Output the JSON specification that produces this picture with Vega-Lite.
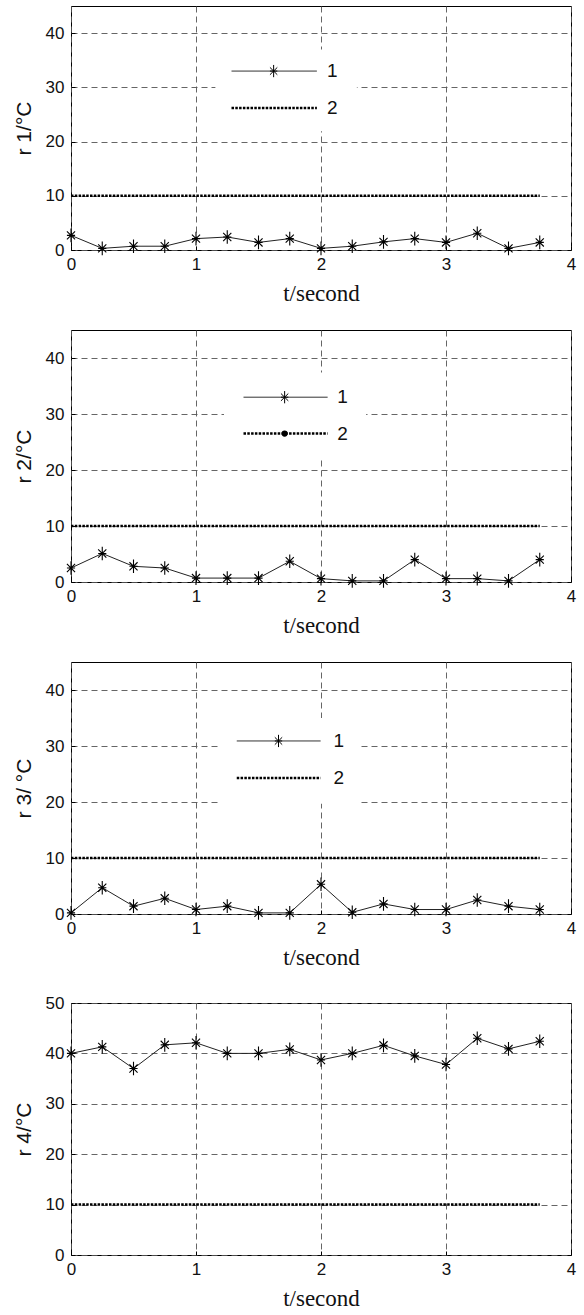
{
  "$schema": "https://vega.github.io/schema/vega-lite/v6.json",
  "padding": {"left": 12, "top": 5, "right": 5, "bottom": 2},
  "spacing": 23,
  "background": "white",
  "config": {
    "view": {"stroke": "black", "strokeWidth": 1},
    "axis": {
      "labelFont": "Liberation Sans", "labelFontSize": 17, "labelColor": "#111", "labelFlush": false,
      "grid": true, "gridDash": [6, 4], "gridColor": "#555", "gridWidth": 0.9,
      "domain": false, "ticks": true, "tickSize": -4, "tickColor": "black", "tickWidth": 1, "labelPadding": 11, "titleColor": "#111"
    },
    "axisX": {"titleFont": "Liberation Serif", "titleFontSize": 23, "titleFontWeight": "normal", "titlePadding": 10, "labelPadding": 10, "format": "d"},
    "axisY": {"titleFont": "Liberation Sans", "titleFontSize": 21, "titleFontWeight": "normal", "titlePadding": 11},
    "text": {"font": "Liberation Sans", "fontSize": 19, "align": "left", "baseline": "middle", "color": "#111"}
  },
  "datasets": {
    "ref": [
      {"t": 0, "r": 10}, {"t": 0.25, "r": 10}, {"t": 0.5, "r": 10}, {"t": 0.75, "r": 10},
      {"t": 1, "r": 10}, {"t": 1.25, "r": 10}, {"t": 1.5, "r": 10}, {"t": 1.75, "r": 10},
      {"t": 2, "r": 10}, {"t": 2.25, "r": 10}, {"t": 2.5, "r": 10}, {"t": 2.75, "r": 10},
      {"t": 3, "r": 10}, {"t": 3.25, "r": 10}, {"t": 3.5, "r": 10}, {"t": 3.75, "r": 10}
    ],
    "p1": [
      {"t": 0, "r": 2.7}, {"t": 0.25, "r": 0.3}, {"t": 0.5, "r": 0.7}, {"t": 0.75, "r": 0.7},
      {"t": 1, "r": 2.1}, {"t": 1.25, "r": 2.4}, {"t": 1.5, "r": 1.4}, {"t": 1.75, "r": 2.1},
      {"t": 2, "r": 0.3}, {"t": 2.25, "r": 0.7}, {"t": 2.5, "r": 1.5}, {"t": 2.75, "r": 2.1},
      {"t": 3, "r": 1.4}, {"t": 3.25, "r": 3.1}, {"t": 3.5, "r": 0.3}, {"t": 3.75, "r": 1.4}
    ],
    "p2": [
      {"t": 0, "r": 2.5}, {"t": 0.25, "r": 5.1}, {"t": 0.5, "r": 2.8}, {"t": 0.75, "r": 2.5},
      {"t": 1, "r": 0.7}, {"t": 1.25, "r": 0.7}, {"t": 1.5, "r": 0.7}, {"t": 1.75, "r": 3.7},
      {"t": 2, "r": 0.6}, {"t": 2.25, "r": 0.2}, {"t": 2.5, "r": 0.2}, {"t": 2.75, "r": 4.0},
      {"t": 3, "r": 0.6}, {"t": 3.25, "r": 0.6}, {"t": 3.5, "r": 0.2}, {"t": 3.75, "r": 4.0}
    ],
    "p3": [
      {"t": 0, "r": 0.2}, {"t": 0.25, "r": 4.7}, {"t": 0.5, "r": 1.4}, {"t": 0.75, "r": 2.8},
      {"t": 1, "r": 0.8}, {"t": 1.25, "r": 1.4}, {"t": 1.5, "r": 0.2}, {"t": 1.75, "r": 0.2},
      {"t": 2, "r": 5.3}, {"t": 2.25, "r": 0.3}, {"t": 2.5, "r": 1.8}, {"t": 2.75, "r": 0.8},
      {"t": 3, "r": 0.8}, {"t": 3.25, "r": 2.5}, {"t": 3.5, "r": 1.4}, {"t": 3.75, "r": 0.8}
    ],
    "p4": [
      {"t": 0, "r": 40.0}, {"t": 0.25, "r": 41.3}, {"t": 0.5, "r": 37.0}, {"t": 0.75, "r": 41.7},
      {"t": 1, "r": 42.1}, {"t": 1.25, "r": 40.0}, {"t": 1.5, "r": 40.0}, {"t": 1.75, "r": 40.8},
      {"t": 2, "r": 38.7}, {"t": 2.25, "r": 40.0}, {"t": 2.5, "r": 41.6}, {"t": 2.75, "r": 39.5},
      {"t": 3, "r": 37.8}, {"t": 3.25, "r": 43.0}, {"t": 3.5, "r": 40.9}, {"t": 3.75, "r": 42.4}
    ]
  },
  "vconcat": [
    {
      "width": 500, "height": 244,
      "layer": [
        {"data": {"name": "ref"}, "mark": {"type": "line", "color": "black", "strokeWidth": 2.5, "strokeDash": [2.5, 1.3]},
         "encoding": {
           "x": {"field": "t", "type": "quantitative", "scale": {"domain": [0, 4]}, "axis": {"values": [0, 1, 2, 3, 4], "title": "t/second"}},
           "y": {"field": "r", "type": "quantitative", "scale": {"domain": [0, 45]}, "axis": {"values": [0, 10, 20, 30, 40], "title": "r 1/°C"}}}},
        {"data": {"name": "p1"}, "mark": {"type": "line", "color": "#222", "strokeWidth": 1},
         "encoding": {"x": {"field": "t", "type": "quantitative"}, "y": {"field": "r", "type": "quantitative"}}},
        {"data": {"name": "p1"}, "mark": {"type": "point", "shape": "M0,-1L0,1M-0.6,0L0.6,0M-0.6,-0.6L0.6,0.6M-0.6,0.6L0.6,-0.6", "size": 185, "filled": false, "color": "black", "strokeWidth": 1.1, "opacity": 1},
         "encoding": {"x": {"field": "t", "type": "quantitative"}, "y": {"field": "r", "type": "quantitative"}}},
        {"data": {"values": [{}]}, "mark": {"type": "rect", "fill": "white", "strokeWidth": 0},
         "encoding": {"x": {"datum": 1.155}, "x2": {"datum": 2.287}, "y": {"datum": 37.0}, "y2": {"datum": 21.9}}},
        {"data": {"values": [{}]}, "mark": {"type": "rule", "color": "#333", "strokeWidth": 1},
         "encoding": {"x": {"datum": 1.284}, "x2": {"datum": 1.967}, "y": {"datum": 33.0}}},
        {"data": {"values": [{}]}, "mark": {"type": "point", "shape": "M0,-1L0,1M-0.6,0L0.6,0M-0.6,-0.6L0.6,0.6M-0.6,0.6L0.6,-0.6", "size": 150, "filled": false, "color": "black", "strokeWidth": 1, "opacity": 1},
         "encoding": {"x": {"datum": 1.621}, "y": {"datum": 33.0}}},
        {"data": {"values": [{}]}, "mark": {"type": "rule", "color": "black", "strokeWidth": 2.5, "strokeDash": [2.5, 1.3]},
         "encoding": {"x": {"datum": 1.284}, "x2": {"datum": 1.967}, "y": {"datum": 26.2}}},
        {"data": {"values": [{}]}, "mark": {"type": "text", "text": "1"},
         "encoding": {"x": {"datum": 2.047}, "y": {"datum": 33.0}}},
        {"data": {"values": [{}]}, "mark": {"type": "text", "text": "2"},
         "encoding": {"x": {"datum": 2.047}, "y": {"datum": 26.2}}}
      ]
    },
    {
      "width": 500, "height": 252,
      "layer": [
        {"data": {"name": "ref"}, "mark": {"type": "line", "color": "black", "strokeWidth": 2.5, "strokeDash": [2.5, 1.3]},
         "encoding": {
           "x": {"field": "t", "type": "quantitative", "scale": {"domain": [0, 4]}, "axis": {"values": [0, 1, 2, 3, 4], "title": "t/second"}},
           "y": {"field": "r", "type": "quantitative", "scale": {"domain": [0, 45]}, "axis": {"values": [0, 10, 20, 30, 40], "title": "r 2/°C"}}}},
        {"data": {"name": "p2"}, "mark": {"type": "line", "color": "#222", "strokeWidth": 1},
         "encoding": {"x": {"field": "t", "type": "quantitative"}, "y": {"field": "r", "type": "quantitative"}}},
        {"data": {"name": "p2"}, "mark": {"type": "point", "shape": "M0,-1L0,1M-0.6,0L0.6,0M-0.6,-0.6L0.6,0.6M-0.6,0.6L0.6,-0.6", "size": 185, "filled": false, "color": "black", "strokeWidth": 1.1, "opacity": 1},
         "encoding": {"x": {"field": "t", "type": "quantitative"}, "y": {"field": "r", "type": "quantitative"}}},
        {"data": {"values": [{}]}, "mark": {"type": "rect", "fill": "white", "strokeWidth": 0},
         "encoding": {"x": {"datum": 1.224}, "x2": {"datum": 2.361}, "y": {"datum": 37.4}, "y2": {"datum": 21.9}}},
        {"data": {"values": [{}]}, "mark": {"type": "rule", "color": "#333", "strokeWidth": 1},
         "encoding": {"x": {"datum": 1.38}, "x2": {"datum": 2.053}, "y": {"datum": 33.0}}},
        {"data": {"values": [{}]}, "mark": {"type": "point", "shape": "M0,-1L0,1M-0.6,0L0.6,0M-0.6,-0.6L0.6,0.6M-0.6,0.6L0.6,-0.6", "size": 150, "filled": false, "color": "black", "strokeWidth": 1, "opacity": 1},
         "encoding": {"x": {"datum": 1.709}, "y": {"datum": 33.0}}},
        {"data": {"values": [{}]}, "mark": {"type": "rule", "color": "black", "strokeWidth": 2.5, "strokeDash": [2.5, 1.3]},
         "encoding": {"x": {"datum": 1.38}, "x2": {"datum": 2.053}, "y": {"datum": 26.5}}},
        {"data": {"values": [{}]}, "mark": {"type": "point", "shape": "circle", "size": 38, "filled": true, "color": "black", "opacity": 1},
         "encoding": {"x": {"datum": 1.709}, "y": {"datum": 26.5}}},
        {"data": {"values": [{}]}, "mark": {"type": "text", "text": "1"},
         "encoding": {"x": {"datum": 2.13}, "y": {"datum": 33.0}}},
        {"data": {"values": [{}]}, "mark": {"type": "text", "text": "2"},
         "encoding": {"x": {"datum": 2.13}, "y": {"datum": 26.5}}}
      ]
    },
    {
      "width": 500, "height": 252,
      "layer": [
        {"data": {"name": "ref"}, "mark": {"type": "line", "color": "black", "strokeWidth": 2.5, "strokeDash": [2.5, 1.3]},
         "encoding": {
           "x": {"field": "t", "type": "quantitative", "scale": {"domain": [0, 4]}, "axis": {"values": [0, 1, 2, 3, 4], "title": "t/second"}},
           "y": {"field": "r", "type": "quantitative", "scale": {"domain": [0, 45]}, "axis": {"values": [0, 10, 20, 30, 40], "title": "r 3/ °C"}}}},
        {"data": {"name": "p3"}, "mark": {"type": "line", "color": "#222", "strokeWidth": 1},
         "encoding": {"x": {"field": "t", "type": "quantitative"}, "y": {"field": "r", "type": "quantitative"}}},
        {"data": {"name": "p3"}, "mark": {"type": "point", "shape": "M0,-1L0,1M-0.6,0L0.6,0M-0.6,-0.6L0.6,0.6M-0.6,0.6L0.6,-0.6", "size": 185, "filled": false, "color": "black", "strokeWidth": 1.1, "opacity": 1},
         "encoding": {"x": {"field": "t", "type": "quantitative"}, "y": {"field": "r", "type": "quantitative"}}},
        {"data": {"values": [{}]}, "mark": {"type": "rect", "fill": "white", "strokeWidth": 0},
         "encoding": {"x": {"datum": 1.176}, "x2": {"datum": 2.32}, "y": {"datum": 35.0}, "y2": {"datum": 19.7}}},
        {"data": {"values": [{}]}, "mark": {"type": "rule", "color": "#333", "strokeWidth": 1},
         "encoding": {"x": {"datum": 1.326}, "x2": {"datum": 1.997}, "y": {"datum": 30.9}}},
        {"data": {"values": [{}]}, "mark": {"type": "point", "shape": "M0,-1L0,1M-0.6,0L0.6,0M-0.6,-0.6L0.6,0.6M-0.6,0.6L0.6,-0.6", "size": 150, "filled": false, "color": "black", "strokeWidth": 1, "opacity": 1},
         "encoding": {"x": {"datum": 1.66}, "y": {"datum": 30.9}}},
        {"data": {"values": [{}]}, "mark": {"type": "rule", "color": "black", "strokeWidth": 2.5, "strokeDash": [2.5, 1.3]},
         "encoding": {"x": {"datum": 1.326}, "x2": {"datum": 1.997}, "y": {"datum": 24.3}}},
        {"data": {"values": [{}]}, "mark": {"type": "text", "text": "1"},
         "encoding": {"x": {"datum": 2.10}, "y": {"datum": 30.9}}},
        {"data": {"values": [{}]}, "mark": {"type": "text", "text": "2"},
         "encoding": {"x": {"datum": 2.10}, "y": {"datum": 24.3}}}
      ]
    },
    {
      "width": 500, "height": 252,
      "layer": [
        {"data": {"name": "ref"}, "mark": {"type": "line", "color": "black", "strokeWidth": 2.5, "strokeDash": [2.5, 1.3]},
         "encoding": {
           "x": {"field": "t", "type": "quantitative", "scale": {"domain": [0, 4]}, "axis": {"values": [0, 1, 2, 3, 4], "title": "t/second"}},
           "y": {"field": "r", "type": "quantitative", "scale": {"domain": [0, 50]}, "axis": {"values": [0, 10, 20, 30, 40, 50], "title": "r 4/°C"}}}},
        {"data": {"name": "p4"}, "mark": {"type": "line", "color": "#222", "strokeWidth": 1},
         "encoding": {"x": {"field": "t", "type": "quantitative"}, "y": {"field": "r", "type": "quantitative"}}},
        {"data": {"name": "p4"}, "mark": {"type": "point", "shape": "M0,-1L0,1M-0.6,0L0.6,0M-0.6,-0.6L0.6,0.6M-0.6,0.6L0.6,-0.6", "size": 185, "filled": false, "color": "black", "strokeWidth": 1.1, "opacity": 1},
         "encoding": {"x": {"field": "t", "type": "quantitative"}, "y": {"field": "r", "type": "quantitative"}}}
      ]
    }
  ]
}
